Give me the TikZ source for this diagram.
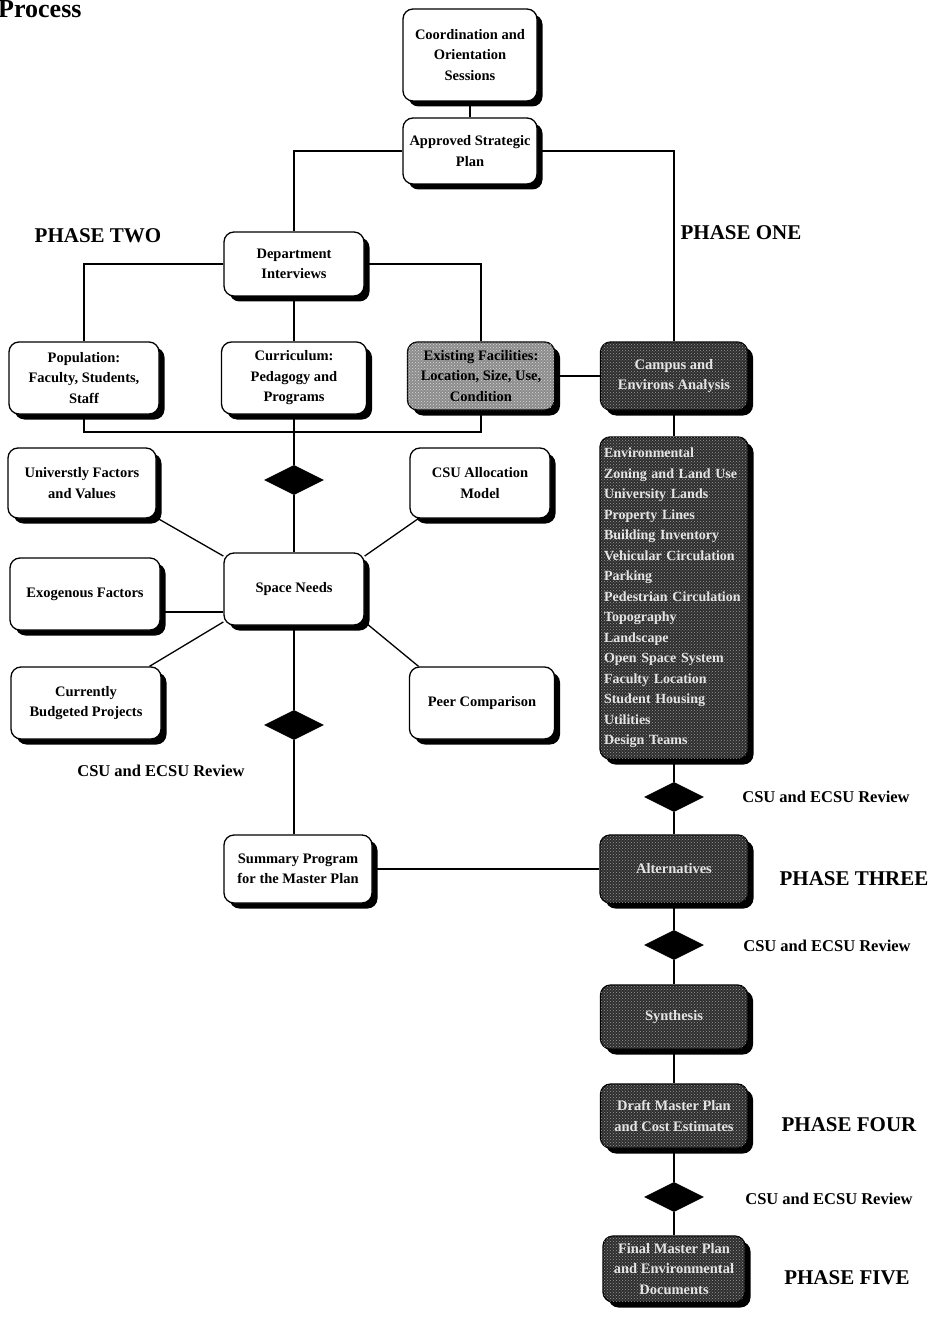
\documentclass[tikz,border=0pt]{standalone}
\usepackage{fontspec}
\setmainfont{Liberation Serif}
\usetikzlibrary{shapes.geometric,shadows,patterns}
\begin{document}
\begin{tikzpicture}[x=1pt,y=-1pt,
  conn/.style={line width=1.3pt},
  box/.style={draw=black, line width=1.3pt, rounded corners=10pt, fill=white, align=center, inner sep=2pt,
    font=\bfseries\fontsize{14.5}{20.5}\selectfont,
    drop shadow={shadow xshift=5.5pt, shadow yshift=-5.5pt, opacity=1, fill=black}},
  dark/.style={box, fill=black!82, text=white!90!black, postaction={pattern=crosshatch dots, pattern color=black!40}},
  mid/.style={box, fill=black!45, text=black, postaction={pattern=crosshatch dots, pattern color=black!15}},
  rev/.style={diamond, fill=black, minimum width=60pt, minimum height=30pt, inner sep=0pt, aspect=2},
  phase/.style={font=\bfseries\fontsize{21}{24}\selectfont},
  review/.style={font=\bfseries\fontsize{16.5}{18}\selectfont}
]
\useasboundingbox (0,0) rectangle (932,1321);
\clip (0,0) rectangle (932,1321);

\node[anchor=base west, font=\bfseries\fontsize{26}{26}\selectfont, inner sep=0pt] (title) at (-2,18) {Process};

% boxes
\node[box, minimum width=134pt, minimum height=92pt] (coord) at (470,55) {Coordination and\\Orientation\\Sessions};
\node[box, minimum width=134pt, minimum height=66pt] (appr) at (470,151) {Approved Strategic\\Plan};
\node[box, minimum width=140pt, minimum height=64pt] (dept) at (294,264) {Department\\Interviews};
\node[box, minimum width=150pt, minimum height=72pt] (pop) at (84,378) {Population:\\Faculty, Students,\\Staff};
\node[box, minimum width=145pt, minimum height=72pt] (curr) at (294,378) {Curriculum:\\Pedagogy and\\Programs};
\node[mid, minimum width=147pt, minimum height=68pt] (exist) at (481,376) {Existing Facilities:\\Location, Size, Use,\\Condition};
\node[dark, minimum width=147pt, minimum height=68pt] (campus) at (674,376) {Campus and\\Environs Analysis};
\node[dark, minimum width=148pt, minimum height=322pt, align=left, text width=140pt,
      font=\bfseries\fontsize{14}{20.5}\selectfont] (list) at (674,598)
  {Environmental\\Zoning and Land Use\\University Lands\\Property Lines\\Building Inventory\\Vehicular Circulation\\Parking\\Pedestrian Circulation\\Topography\\Landscape\\Open Space System\\Faculty Location\\Student Housing\\Utilities\\Design Teams};

\node[box, minimum width=148pt, minimum height=70pt] (univ) at (82,483) {Universtly Factors\\and Values};
\node[box, minimum width=140pt, minimum height=70pt] (alloc) at (480,483) {CSU Allocation\\Model};
\node[box, minimum width=140pt, minimum height=72pt] (sn) at (294,589) {Space Needs};
\node[box, minimum width=150pt, minimum height=72pt] (exo) at (85,594) {Exogenous Factors};
\node[box, minimum width=150pt, minimum height=72pt] (budg) at (86,703) {Currently\\Budgeted Projects};
\node[box, minimum width=145pt, minimum height=72pt] (peer) at (482,703) {Peer Comparison};

\node[rev] (d1) at (294,480) {};
\node[rev] (d2) at (294,725) {};
\node[box, minimum width=148pt, minimum height=68pt] (summ) at (298,869) {Summary Program\\for the Master Plan};

\node[rev] (d3) at (674,797) {};
\node[dark, minimum width=148pt, minimum height=68pt] (alt) at (674,869) {Alternatives};
\node[rev] (d4) at (674,945) {};
\node[dark, minimum width=147pt, minimum height=64pt] (syn) at (674,1017) {Synthesis};
\node[dark, minimum width=147pt, minimum height=64pt] (draft) at (674,1116) {Draft Master Plan\\and Cost Estimates};
\node[rev] (d5) at (674,1197) {};
\node[dark, minimum width=142pt, minimum height=66pt] (final) at (674,1269) {Final Master Plan\\and Environmental\\Documents};

% labels
\node[phase] (p2) at (98,236) {PHASE TWO};
\node[phase] (p1) at (741,233) {PHASE ONE};
\node[phase] (p3) at (854,879) {PHASE THREE};
\node[phase] (p4) at (849,1125) {PHASE FOUR};
\node[phase] (p5) at (847,1278) {PHASE FIVE};
\node[review] (r0) at (161,771) {CSU and ECSU Review};
\node[review] (r1) at (826,797) {CSU and ECSU Review};
\node[review] (r2) at (827,946) {CSU and ECSU Review};
\node[review] (r3) at (829,1199) {CSU and ECSU Review};

% connectors
\draw[conn] (coord) -- (appr);
\draw[conn] (appr.west) -| (dept.north);
\draw[conn] (appr.east) -| (campus.north);
\draw[conn] (dept.west) -| (pop.north);
\draw[conn] (dept.east) -| (exist.north);
\draw[conn] (dept) -- (curr);
\coordinate (br) at (294,432);
\draw[conn] (pop.south) |- (br) -| (exist.south);
\draw[conn] (curr.south) -- (d1.north);
\draw[conn] (d1.south) -- (sn.north);
\draw[conn] (exist.east) -- (campus.west);
\draw[conn] (campus) -- (list);
\draw[conn] (univ.-25) -- (sn.155);
\draw[conn] (alloc.-150) -- (sn.25);
\coordinate (e1) at ([yshift=-18pt]exo.east);
\draw[conn] (e1) -- (e1 -| sn.west);
\draw[conn] (budg.30) -- (sn.-155);
\draw[conn] (peer.150) -- (sn.-25);
\draw[conn] (sn.south) -- (d2.north);
\draw[conn] (d2.south) -- (d2.south |- summ.north);
\draw[conn] (summ.east) -- (alt.west);
\draw[conn] (list.south) -- (d3.north);
\draw[conn] (d3.south) -- (alt.north);
\draw[conn] (alt.south) -- (d4.north);
\draw[conn] (d4.south) -- (syn.north);
\draw[conn] (syn.south) -- (draft.north);
\draw[conn] (draft.south) -- (d5.north);
\draw[conn] (d5.south) -- (final.north);
\end{tikzpicture}
\end{document}
